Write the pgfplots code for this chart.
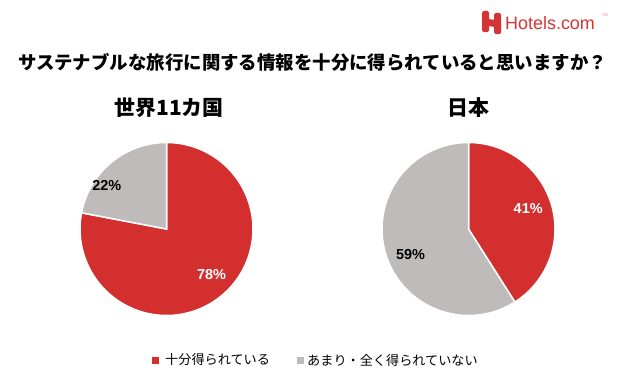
\documentclass[border=0pt]{standalone}
\usepackage{pgfplots}
\pgfplotsset{compat=1.18}
\usepackage{fontspec}
\setmainfont{Noto Sans CJK JP}
\newfontfamily\lat{Liberation Sans}
\definecolor{pieRed}{RGB}{211,47,47}
\definecolor{pieGray}{RGB}{190,187,186}
\definecolor{logoRed}{RGB}{214,52,52}
\begin{document}
\begin{tikzpicture}[x=1bp,y=1bp]
\path (0,0) rectangle (625,383);
\coordinate (L) at (166.5,154);
\coordinate (R) at (468.5,154);
% logo
\fill[logoRed, rounded corners=1.5bp] (482,351) rectangle (489,372);
\fill[logoRed, rounded corners=1.5bp] (494,349) rectangle (501,370);
\fill[logoRed] (488,357) -- (495,356) -- (495,363) -- (488,364) -- cycle;
\node[anchor=west, text=logoRed, inner sep=0pt, font=\lat\fontsize{18}{20}\selectfont] at (505,360) {Hotels.com};
\node[text=logoRed!60, inner sep=0pt, font=\lat\fontsize{4}{4}\selectfont] at (605,368) {TM};
% title
\node[inner sep=0pt, font=\bfseries\fontsize{18.5}{20}\selectfont] at (312.5,321) {サステナブルな旅行に関する情報を十分に得られていると思いますか？};
\node[inner sep=0pt, font=\bfseries\fontsize{21}{24}\selectfont] at (169,275) {世界11カ国};
\node[inner sep=0pt, font=\bfseries\fontsize{21}{24}\selectfont] at (468.5,275) {日本};
% left pie
\begin{axis}[at={(L)}, anchor=center, width=173bp, height=173bp, scale only axis, hide axis,
  xmin=-1, xmax=1, ymin=-1, ymax=1, clip=false]
\addplot[fill=pieRed, draw=white, line width=1.5bp, domain=90:{90-3.6*78}, samples=150] ({cos(x)},{sin(x)}) -- (axis cs:0,0) -- cycle;
\addplot[fill=pieGray, draw=white, line width=1.5bp, domain={90-3.6*78}:{90-3.6*78-3.6*22}, samples=60] ({cos(x)},{sin(x)}) -- (axis cs:0,0) -- cycle;
\node[text=white, font=\lat\bfseries\fontsize{14.5}{16}\selectfont] at (axis cs:0.52,-0.53) {78\%};
\node[text=black, font=\lat\bfseries\fontsize{14.5}{16}\selectfont] at (axis cs:-0.69,0.50) {22\%};
\end{axis}
% right pie
\begin{axis}[at={(R)}, anchor=center, width=173bp, height=173bp, scale only axis, hide axis,
  xmin=-1, xmax=1, ymin=-1, ymax=1, clip=false]
\addplot[fill=pieRed, draw=white, line width=1.5bp, domain=90:{90-3.6*41}, samples=100] ({cos(x)},{sin(x)}) -- (axis cs:0,0) -- cycle;
\addplot[fill=pieGray, draw=white, line width=1.5bp, domain={90-3.6*41}:{90-3.6*41-3.6*59}, samples=120] ({cos(x)},{sin(x)}) -- (axis cs:0,0) -- cycle;
\node[text=white, font=\lat\bfseries\fontsize{14.5}{16}\selectfont] at (axis cs:0.69,0.24) {41\%};
\node[text=black, font=\lat\bfseries\fontsize{14.5}{16}\selectfont] at (axis cs:-0.67,-0.30) {59\%};
\end{axis}
% legend
\fill[pieRed] (152,19) rectangle (159,26);
\node[anchor=west, inner sep=0pt, font=\fontsize{13.2}{14}\selectfont] at (165,23) {十分得られている};
\fill[pieGray] (297,19) rectangle (304,26);
\node[anchor=west, inner sep=0pt, font=\fontsize{13.2}{14}\selectfont] at (307,23) {あまり・全く得られていない};
\end{tikzpicture}
\end{document}
